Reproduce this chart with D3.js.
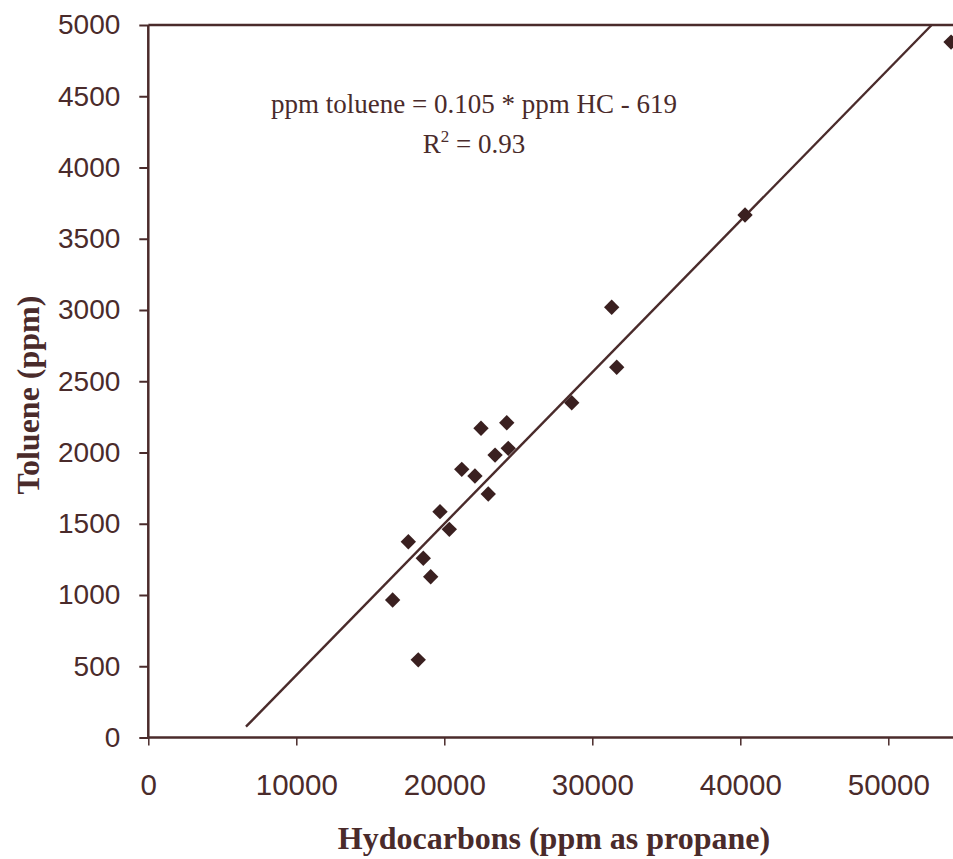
<!DOCTYPE html>
<html>
<head>
<meta charset="utf-8">
<script src="https://cdn.jsdelivr.net/npm/d3@7"></script>
<style>
  html, body { margin: 0; padding: 0; background: #ffffff; }
  svg { display: block; }
</style>
</head>
<body>
<svg id="chart" width="953" height="859"></svg>
<script>
// ---- data ----
const hydrocarbons = [16510, 19080, 17570, 18580, 19710, 20340, 21180, 22070, 22970, 22480, 24220, 23430, 24320, 28610, 31310, 31650, 40320, 18240, 54240];
const toluene      = [  965,  1128,  1374,  1258,  1585,  1461,  1882,  1835,  1709,  2170,  2209,  1982,  2029,  2349,  3019,  2598,  3667,   545,  4880];
const fitLineX = [6600, 52930];
const fitLineY = [76, 5000];
const xTicks = [0, 10000, 20000, 30000, 40000, 50000];
const yTicks = [0, 500, 1000, 1500, 2000, 2500, 3000, 3500, 4000, 4500, 5000];
const equationText = "ppm toluene = 0.105 * ppm HC - 619";
const r2Value = "0.93";
const xTitle = "Hydocarbons (ppm as propane)";
const yTitle = "Toluene (ppm)";

// ---- layout ----
const W = 953, H = 859;
const ink = "#4a2b2b";
const markInk = "#3a2020";
const svg = d3.select("#chart");

const x = d3.scaleLinear().domain([0, 50000]).range([148.3, 888.3]);
const y = d3.scaleLinear().domain([0, 5000]).range([737.5, 25]);

// axes
const yAxis = d3.axisLeft(y).tickValues(yTicks).tickSize(9).tickPadding(19).tickFormat(d3.format("d"));
const xAxis = d3.axisBottom(x).tickValues(xTicks).tickSize(8).tickPadding(29).tickFormat(d3.format("d"));

const gy = svg.append("g").attr("transform", `translate(${x(0)},0)`).call(yAxis);
gy.select(".domain").remove();
gy.selectAll(".tick line").attr("stroke", ink).attr("stroke-width", 2);
gy.selectAll(".tick text").attr("fill", ink).attr("font-family", "'Liberation Sans', Arial, sans-serif").attr("font-size", 28);

const gx = svg.append("g").attr("transform", `translate(0,${y(0)})`).call(xAxis);
gx.select(".domain").remove();
gx.selectAll(".tick line").attr("stroke", ink).attr("stroke-width", 1.5);
gx.selectAll(".tick text").attr("fill", ink).attr("font-family", "'Liberation Sans', Arial, sans-serif").attr("font-size", 29.5);

// frame lines: left axis, bottom axis, top border (run to the page edge)
svg.append("line").attr("x1", x(0)).attr("x2", x(0)).attr("y1", y(5000)).attr("y2", y(0))
  .attr("stroke", ink).attr("stroke-width", 2.5);
svg.append("line").attr("x1", x(0)).attr("x2", W).attr("y1", y(0)).attr("y2", y(0))
  .attr("stroke", ink).attr("stroke-width", 2.5);
svg.append("line").attr("x1", x(0)).attr("x2", W).attr("y1", y(5000)).attr("y2", y(5000))
  .attr("stroke", ink).attr("stroke-width", 2.5);

// regression line
svg.append("path")
  .datum(fitLineX.map((d, i) => [d, fitLineY[i]]))
  .attr("d", d3.line().x(d => x(d[0])).y(d => y(d[1])))
  .attr("fill", "none").attr("stroke", ink).attr("stroke-width", 2.4);

// diamonds
const diamond = d3.symbol().type(d3.symbolSquare).size(118);
svg.append("g").selectAll("path")
  .data(hydrocarbons.map((d, i) => [d, toluene[i]]))
  .join("path")
  .attr("d", diamond)
  .attr("transform", d => `translate(${x(d[0])},${y(d[1])}) rotate(45)`)
  .attr("fill", markInk);

// equation annotation
const eq = svg.append("text")
  .attr("x", 474).attr("y", 113)
  .attr("text-anchor", "middle")
  .attr("font-family", "'Liberation Serif', 'Times New Roman', serif")
  .attr("font-size", 27).attr("fill", ink)
  .text(equationText);
const r2 = svg.append("text")
  .attr("x", 474).attr("y", 153)
  .attr("text-anchor", "middle")
  .attr("font-family", "'Liberation Serif', 'Times New Roman', serif")
  .attr("font-size", 27).attr("fill", ink);
r2.append("tspan").text("R");
r2.append("tspan").attr("font-size", 17).attr("dy", -11).text("2");
r2.append("tspan").attr("dy", 11).text(" = " + r2Value);

// axis titles
svg.append("text")
  .attr("x", 554).attr("y", 849)
  .attr("text-anchor", "middle")
  .attr("font-family", "'Liberation Serif', 'Times New Roman', serif")
  .attr("font-weight", "bold").attr("font-size", 32).attr("fill", ink)
  .text(xTitle);
svg.append("text")
  .attr("transform", "translate(39,395) rotate(-90)")
  .attr("text-anchor", "middle")
  .attr("font-family", "'Liberation Serif', 'Times New Roman', serif")
  .attr("font-weight", "bold").attr("font-size", 32).attr("fill", ink)
  .text(yTitle);
</script>
</body>
</html>
